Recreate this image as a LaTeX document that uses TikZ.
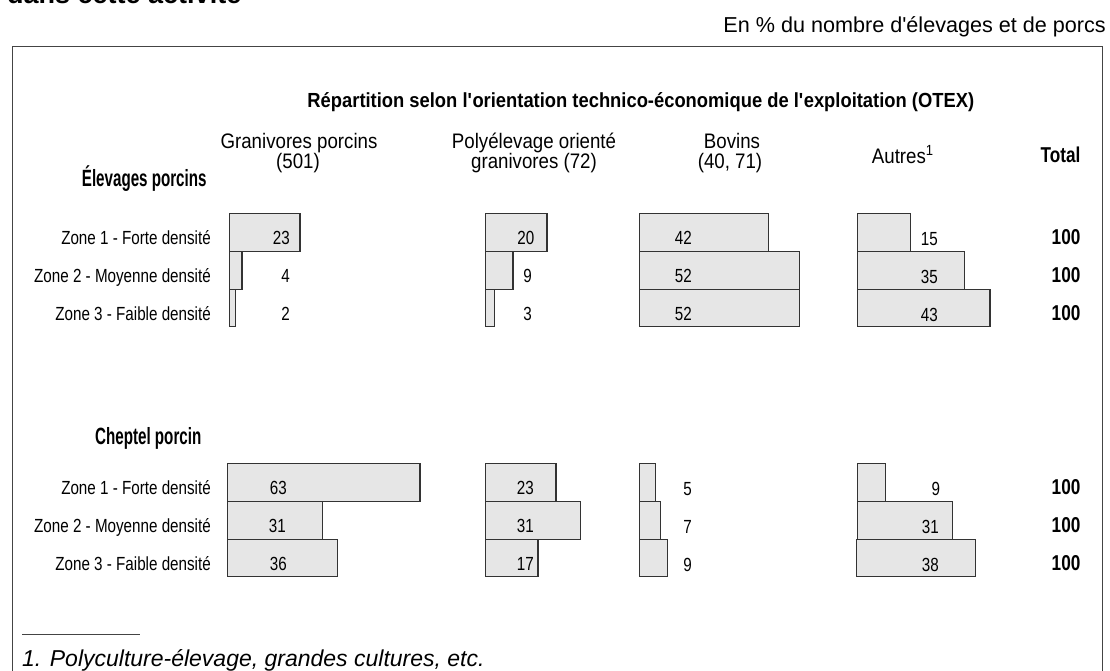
\documentclass[tikz,border=0pt]{standalone}
\usepackage{fontspec}
\setmainfont{Liberation Sans}
\newfontfamily\condf{Liberation Sans}[FakeStretch=0.8]
\newfontfamily\headf{Liberation Sans}[FakeStretch=0.89]
\newfontfamily\grpf{Liberation Sans}[FakeStretch=0.645]
\newfontfamily\totf{Liberation Sans}[FakeStretch=0.8]
\newfontfamily\titlef{Liberation Sans}[FakeStretch=0.9]
\newcommand\apos{\textquotesingle}
\definecolor{barfill}{HTML}{E6E6E6}
\definecolor{barline}{HTML}{333333}
\definecolor{frameline}{HTML}{444444}
\begin{document}
\begin{tikzpicture}[x=1pt,y=-1pt,
  bar/.style={fill=barfill,draw=barline,line width=1.1pt},
  zone/.style={anchor=base east,inner sep=0pt,font=\condf\fontsize{19}{22}\selectfont},
  val/.style={anchor=base east,inner sep=0pt,font=\condf\fontsize{19}{22}\selectfont},
  tot/.style={anchor=base east,inner sep=0pt,font=\totf\bfseries\fontsize{21.5}{24}\selectfont},
  head/.style={anchor=base,inner sep=0pt,font=\headf\fontsize{21}{24}\selectfont},
  grp/.style={anchor=base west,inner sep=0pt,font=\grpf\bfseries\fontsize{23.5}{27}\selectfont},
]
\useasboundingbox (0,0) rectangle (1110,671);
\clip (0,0) rectangle (1110,671);

% cut-off heading and unit line
\node[anchor=base west,inner sep=0pt,font=\bfseries\fontsize{27}{30}\selectfont] (heading) at (7,4) {dans cette activité};
\node[anchor=base east,inner sep=0pt,font=\fontsize{21.6}{24}\selectfont] (unit) at (1106,32.7) {En \% du nombre d\apos élevages et de porcs};

% frame
\draw[frameline,line width=1.4pt] (12.3,690) -- (12.3,46.7) -- (1102.3,46.7) -- (1102.3,690);

% title and headers
\node[anchor=base,inner sep=0pt,font=\titlef\bfseries\fontsize{20.4}{24}\selectfont] (title) at (640.8,107.3) {Répartition selon l\apos orientation technico-économique de l\apos exploitation (OTEX)};
\node[head] (h1a) at (299,148.3) {Granivores porcins};
\node[head] (h1b) at (298,168.3) {(501)};
\node[head] (h2a) at (534,148.3) {Polyélevage orienté};
\node[head] (h2b) at (534,168.3) {granivores (72)};
\node[head] (h3a) at (732,148.3) {Bovins};
\node[head] (h3b) at (730,168.3) {(40, 71)};
\node[head,anchor=base west] (h4) at (871.7,163.3) {Autres\textsuperscript{1}};
\node[tot] (htot) at (1080.6,162.7) {Total};

% group labels
\node[grp] (g1) at (81.7,186.7) {Élevages porcins};
\node[grp] (g2) at (95,444) {Cheptel porcin};

% ---------- Elevages porcins ----------
\node[zone] (e1) at (211,244) {Zone 1 - Forte densité};
\node[zone] (e2) at (211,282) {Zone 2 - Moyenne densité};
\node[zone] (e3) at (211,320) {Zone 3 - Faible densité};
% granivores
\draw[bar] (229.3,213.3) rectangle (300,251.7);
\draw[bar] (229.3,251.7) rectangle (242,289.3);
\draw[bar] (229.3,289.3) rectangle (235.7,326.7);
\node[val] (eg1) at (290,244) {23};
\node[val] (eg2) at (290,282) {4};
\node[val] (eg3) at (290,320) {2};
% polyelevage
\draw[bar] (485.4,213.3) rectangle (547,251.7);
\draw[bar] (485.4,251.7) rectangle (513,289.3);
\draw[bar] (485.4,289.3) rectangle (494.7,326.7);
\node[val] (ep1) at (534.5,244) {20};
\node[val] (ep2) at (532,282) {9};
\node[val] (ep3) at (532,320) {3};
% bovins
\draw[bar] (639.2,213.3) rectangle (768.4,251.7);
\draw[bar] (639.2,251.7) rectangle (799.3,289.3);
\draw[bar] (639.2,289.3) rectangle (799.3,326.7);
\node[val] (eb1) at (692,244) {42};
\node[val] (eb2) at (692,282) {52};
\node[val] (eb3) at (692,320) {52};
% autres
\draw[bar] (857.2,213.3) rectangle (910.5,251.7);
\draw[bar] (857.2,251.7) rectangle (964.4,289.3);
\draw[bar] (857.2,289.3) rectangle (990,326.7);
\node[val] (ea1) at (938,245.5) {15};
\node[val] (ea2) at (938,283.5) {35};
\node[val] (ea3) at (938,321.5) {43};
% totals
\node[tot] (et1) at (1080.6,244) {100};
\node[tot] (et2) at (1080.6,282) {100};
\node[tot] (et3) at (1080.6,320) {100};

% ---------- Cheptel porcin ----------
\node[zone] (c1) at (211,494) {Zone 1 - Forte densité};
\node[zone] (c2) at (211,532) {Zone 2 - Moyenne densité};
\node[zone] (c3) at (211,570) {Zone 3 - Faible densité};
% granivores
\draw[bar] (227.3,463.3) rectangle (420,501.7);
\draw[bar] (227.3,501.7) rectangle (322.3,539.3);
\draw[bar] (227.3,539.3) rectangle (337.3,576.7);
\node[val] (cg1) at (287,494) {63};
\node[val] (cg2) at (286,532) {31};
\node[val] (cg3) at (287,570) {36};
% polyelevage
\draw[bar] (485.4,463.3) rectangle (556,501.7);
\draw[bar] (485.4,501.7) rectangle (580.6,539.3);
\draw[bar] (485.4,539.3) rectangle (538,576.7);
\node[val] (cp1) at (534,494) {23};
\node[val] (cp2) at (534,532) {31};
\node[val] (cp3) at (534,570) {17};
% bovins
\draw[bar] (639.2,463.3) rectangle (655.1,501.7);
\draw[bar] (639.2,501.7) rectangle (660.8,539.3);
\draw[bar] (639.2,539.3) rectangle (667.6,576.7);
\node[val] (cb1) at (692,495.5) {5};
\node[val] (cb2) at (692,533) {7};
\node[val] (cb3) at (692,571) {9};
% autres
\draw[bar] (857.2,463.3) rectangle (885.3,501.7);
\draw[bar] (857.2,501.7) rectangle (952.7,539.3);
\draw[bar] (856.5,539.3) rectangle (975.1,576.7);
\node[val] (ca1) at (940.3,495.5) {9};
\node[val] (ca2) at (939,533) {31};
\node[val] (ca3) at (939,571) {38};
% totals
\node[tot] (ct1) at (1080.6,494) {100};
\node[tot] (ct2) at (1080.6,532) {100};
\node[tot] (ct3) at (1080.6,570) {100};

% footnote
\draw[frameline,line width=1pt] (22,634.5) -- (140,634.5);
\node[anchor=base west,inner sep=0pt,font=\itshape\fontsize{23}{26}\selectfont] (note) at (22,666.5) {1. Polyculture-élevage, grandes cultures, etc.};
\end{tikzpicture}
\end{document}
